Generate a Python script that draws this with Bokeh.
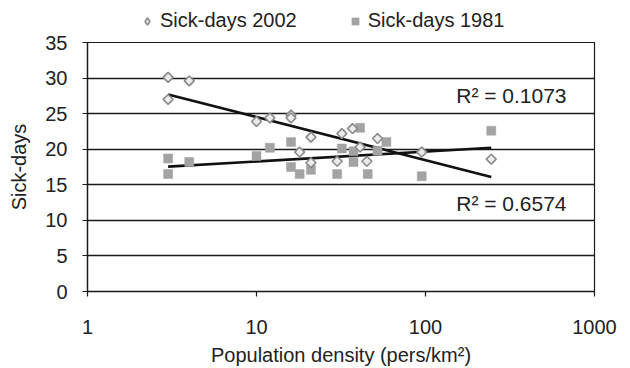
import math
from bokeh.plotting import figure
from bokeh.layouts import column
from bokeh.models import FixedTicker, Legend, LegendItem, Range1d, PrintfTickFormatter
from bokeh.core.properties import value
from bokeh.embed import file_html
from bokeh.resources import INLINE

# Data
x2002 = [3, 3, 4, 10, 12, 16, 16, 18, 21, 21, 30, 32, 37, 41, 45, 52, 95, 245]
y2002 = [30.1, 27.0, 29.6, 23.9, 24.4, 24.8, 24.4, 19.6, 21.7, 18.1, 18.3, 22.2, 22.9, 20.3, 18.3, 21.5, 19.6, 18.6]

x1981 = [3, 3, 4, 10, 12, 16, 16, 18, 21, 30, 32, 37.5, 37.5, 41, 45.5, 52, 58.7, 95, 245]
y1981 = [18.7, 16.5, 18.2, 19.05, 20.2, 21.0, 17.5, 16.5, 17.1, 16.5, 20.1, 19.7, 18.2, 23.0, 16.5, 19.8, 21.0, 16.2, 22.6]

trend_x = [3, 245]
trend_2002 = [27.7, 16.1]
trend_1981 = [17.55, 20.2]

series_names = ["Sick-days 2002", "Sick-days 1981"]
r2_labels = ["R\u00b2 = 0.1073", "R\u00b2 = 0.6574"]
x_ticks = [1, 10, 100, 1000]
y_ticks = [0, 5, 10, 15, 20, 25, 30, 35]

FONT = "Liberation Sans"
FS = "20px"

DI_COLORS = dict(fill_color="#ececec", line_color="#8a8a8a", line_width=1.6)
SQ_STYLE = dict(marker="square",
                fill_color="#a3a3a3", line_color="#a3a3a3", line_width=0.5)

# ---------------- main chart ----------------
p = figure(width=630, height=337, x_axis_type="log",
           x_range=Range1d(1, 1000), y_range=Range1d(0, 35),
           output_backend="svg", toolbar_location=None,
           min_border_left=87, min_border_right=36,
           min_border_top=11, min_border_bottom=70)

p.outline_line_color = "#1a1a1a"
p.outline_line_width = 1.2
p.background_fill_color = "white"
p.border_fill_color = "white"

p.xgrid.visible = False
p.ygrid.ticker = FixedTicker(ticks=y_ticks)
p.ygrid.grid_line_color = "#1a1a1a"
p.ygrid.grid_line_width = 1.3

for ax in (p.xaxis[0], p.yaxis[0]):
    ax.axis_line_color = "#1a1a1a"
    ax.axis_line_width = 1.3
    ax.major_tick_line_color = "#1a1a1a"
    ax.major_tick_line_width = 1.2
    ax.major_tick_out = 5
    ax.major_tick_in = 0
    ax.minor_tick_line_color = None
    ax.major_label_text_font = FONT
    ax.major_label_text_font_size = FS
    ax.major_label_text_color = "#222222"
    ax.axis_label_text_font = FONT
    ax.axis_label_text_font_size = FS
    ax.axis_label_text_font_style = "normal"
    ax.axis_label_text_color = "#222222"

p.xaxis.ticker = FixedTicker(ticks=x_ticks)
p.xaxis.formatter = PrintfTickFormatter(format="%d")
p.xaxis.major_label_standoff = 23
p.xaxis.axis_label = "Population density (pers/km\u00b2)"
p.xaxis.axis_label_standoff = 7

p.yaxis.ticker = FixedTicker(ticks=y_ticks)
p.yaxis.major_label_standoff = 15
p.yaxis.axis_label = "Sick-days"
p.yaxis.axis_label_standoff = 12

# Trend lines
p.line(trend_x, trend_2002, line_color="#111111", line_width=2.6)
p.line(trend_x, trend_1981, line_color="#111111", line_width=2.6)

p.scatter(x1981, y1981, size=9, **SQ_STYLE)
p.scatter(x2002, y2002, marker="square", size=7, angle=math.pi / 4, **DI_COLORS)

p.text(x=[152, 152], y=[27.6, 12.35], text=r2_labels,
       text_font=value(FONT), text_font_size="21px", text_color="#222222",
       text_baseline="middle", text_align="left")

# ---------------- legend strip ----------------
lg = figure(width=630, height=31, x_range=Range1d(0, 1), y_range=Range1d(0, 1),
            output_backend="svg", toolbar_location=None,
            x_axis_location=None, y_axis_location=None, min_border=0)
lg.outline_line_color = None
lg.grid.visible = False
lr_di = lg.scatter([5], [5], marker="diamond", size=10, **DI_COLORS)
lr_sq = lg.scatter([5], [5], size=9, **SQ_STYLE)

legend = Legend(items=[LegendItem(label=series_names[0], renderers=[lr_di]),
                       LegendItem(label=series_names[1], renderers=[lr_sq])],
                location=(51, -1), orientation="horizontal")
legend.border_line_color = None
legend.background_fill_alpha = 0
legend.padding = 0
legend.margin = 0
legend.spacing = 49
legend.glyph_width = 18
legend.glyph_height = 18
legend.label_height = 22
legend.label_standoff = 4
legend.label_text_font = FONT
legend.label_text_font_size = FS
legend.label_text_color = "#222222"
lg.add_layout(legend, "center")

layout = column(lg, p, spacing=0)
open("out.html", "w").write(file_html(layout, INLINE))
